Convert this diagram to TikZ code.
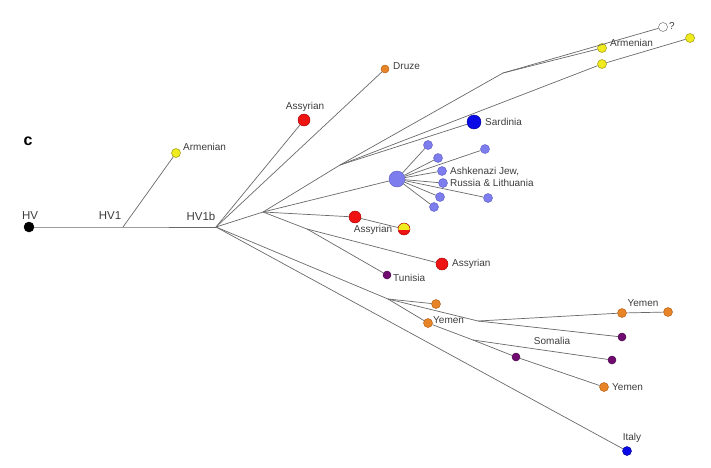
\documentclass[tikz,border=0pt]{standalone}
\usepackage{fontspec}
\setmainfont{Liberation Sans}
\definecolor{lnc}{RGB}{105,105,105}
\definecolor{txc}{RGB}{60,60,60}
\definecolor{yelF}{RGB}{240,235,30}
\definecolor{yelD}{RGB}{150,145,0}
\definecolor{redF}{RGB}{238,20,20}
\definecolor{redD}{RGB}{170,0,0}
\definecolor{bluF}{RGB}{10,10,230}
\definecolor{bluD}{RGB}{0,0,150}
\definecolor{perF}{RGB}{125,125,238}
\definecolor{perD}{RGB}{95,95,200}
\definecolor{orF}{RGB}{232,132,40}
\definecolor{orD}{RGB}{180,95,20}
\definecolor{puF}{RGB}{112,12,112}
\definecolor{puD}{RGB}{70,0,70}
\begin{document}
\begin{tikzpicture}[x=1pt,y=-1pt,
  dot/.style={circle,inner sep=0pt,minimum size=#1,line width=0.45pt},
  ylw/.style={dot=#1,fill=yelF,draw=yelD},
  rd/.style={dot=#1,fill=redF,draw=redD},
  bl/.style={dot=#1,fill=bluF,draw=bluD},
  pr/.style={dot=#1,fill=perF,draw=perD},
  og/.style={dot=#1,fill=orF,draw=orD},
  pu/.style={dot=#1,fill=puF,draw=puD},
  lab/.style={text=txc,font=\fontsize{10}{12}\selectfont,inner sep=0pt},
  hvlab/.style={text=txc,font=\fontsize{11.5}{13}\selectfont,inner sep=0pt},
  conn/.style={draw=lnc,line width=0.7pt}]
\useasboundingbox (0,0) rectangle (711,467);
% nodes
\node[dot=10pt,fill=black,draw=black] (hv) at (29,227) {};
\coordinate (hv1) at (123,227);
\coordinate (hv1b) at (216,227);
\node[ylw=9pt] (arm1) at (176,153) {};
\node[rd=12pt] (asy1) at (304,120) {};
\node[og=8pt] (druze) at (385,69) {};
\coordinate (j1) at (263,212);
\coordinate (j2) at (340,165);
\node[bl=14pt] (sard) at (474,122) {};
\coordinate (j3) at (503,73);
\node[dot=9pt,fill=white,draw=lnc] (q) at (663,27) {};
\node[ylw=9pt] (arm2) at (602,48) {};
\node[ylw=9pt] (y1) at (602,64) {};
\node[ylw=9pt] (y2) at (690,38) {};
\node[pr=16pt] (big) at (397,179) {};
\node[pr=9pt] (s1) at (428,145) {};
\node[pr=9pt] (s2) at (485,149) {};
\node[pr=9pt] (s3) at (438,158) {};
\node[pr=9pt] (s4) at (442,171) {};
\node[pr=9pt] (s5) at (443,183) {};
\node[pr=9pt] (s6) at (488,198) {};
\node[pr=9pt] (s7) at (440,197) {};
\node[pr=9pt] (s8) at (434,207) {};
\node[rd=12pt] (asy2) at (355,217) {};
\node[dot=12pt,fill=redF,draw=redD,
  path picture={\fill[yelF] (path picture bounding box.north west) rectangle ([yshift=-0.5pt]path picture bounding box.east);}] (half) at (404,229) {};
\coordinate (j4) at (307,229);
\node[rd=12pt] (asy3) at (442,264) {};
\node[pu=8pt] (tun) at (387,275) {};
\coordinate (j5) at (388,299);
\node[og=9pt] (or1) at (436,304) {};
\node[og=9pt] (yem1) at (428,323) {};
\coordinate (j6) at (478,321);
\node[og=9pt] (yem2) at (622,313) {};
\node[og=9pt] (or2) at (668,312) {};
\node[pu=8pt] (pu1) at (622,337) {};
\coordinate (j7) at (473,340);
\node[pu=8pt] (pu2) at (516,357) {};
\node[og=9pt] (yem3) at (604,387) {};
\node[pu=8pt] (pu3) at (612,360) {};
\node[bl=9pt] (italy) at (627,451) {};
% connectors
\path[conn] (hv) -- (hv1) -- (hv1b);
\path[conn] (hv1) -- (arm1);
\path[conn] (hv1b) -- (asy1);
\path[conn] (hv1b) -- (druze);
\path[conn] (hv1b) -- (j1);
\path[conn] (j1) -- (j2);
\path[conn] (j2) -- (sard);
\path[conn] (j2) -- (j3);
\path[conn] (j3) -- (q);
\path[conn] (j3) -- (arm2);
\path[conn] (j2) -- (y1);
\path[conn] (y1) -- (y2);
\path[conn] (j1) -- (big);
\foreach \s in {s1,s2,s3,s4,s5,s6,s7,s8} \path[conn] (big) -- (\s);
\path[conn] (j1) -- (asy2);
\path[conn] (asy2) -- (half);
\path[conn] (j1) -- (j4);
\path[conn] (j4) -- (asy3);
\path[conn] (j4) -- (tun);
\path[conn] (hv1b) -- (j5);
\path[conn] (j5) -- (or1);
\path[conn] (j5) -- (yem1);
\path[conn] (j5) -- (j6);
\path[conn] (j6) -- (yem2);
\path[conn] (yem2) -- (or2);
\path[conn] (j6) -- (pu1);
\path[conn] (yem1) -- (j7);
\path[conn] (j7) -- (pu2);
\path[conn] (pu2) -- (yem3);
\path[conn] (j7) -- (pu3);
\path[conn] (hv1b) -- (italy);
% labels
\node[hvlab] (lhv) at (30,216) {HV};
\node[hvlab] (lhv1) at (110,216) {HV1};
\node[hvlab] (lhv1b) at (201,216) {HV1b};
\node[text=black,font=\fontsize{16}{18}\selectfont\bfseries,inner sep=0pt] (lc) at (28,141) {c};
\node[lab,anchor=west] (larm1) at (183,147) {Armenian};
\node[lab] (lasy1) at (305,107) {Assyrian};
\node[lab,anchor=west] (ldruze) at (393,66) {Druze};
\node[lab,anchor=west] (lsard) at (485,122) {Sardinia};
\node[lab,anchor=west,align=left,font=\fontsize{10}{11.5}\selectfont] (lash) at (450,177) {Ashkenazi Jew,\\Russia \& Lithuania};
\node[lab] (lasy2) at (373,230) {Assyrian};
\node[lab,anchor=west] (lasy3) at (452,264) {Assyrian};
\node[lab,anchor=west] (ltun) at (393,278) {Tunisia};
\node[lab,anchor=west] (lyem1) at (433,320) {Yemen};
\node[lab] (lyem2) at (643,303) {Yemen};
\node[lab] (lsom) at (552,341) {Somalia};
\node[lab,anchor=west] (lyem3) at (612,387) {Yemen};
\node[lab] (lit) at (632,438) {Italy};
\node[lab,anchor=west] (larm2) at (610,43) {Armenian};
\node[lab,anchor=west] (lq) at (669,26) {?};
\end{tikzpicture}
\end{document}
